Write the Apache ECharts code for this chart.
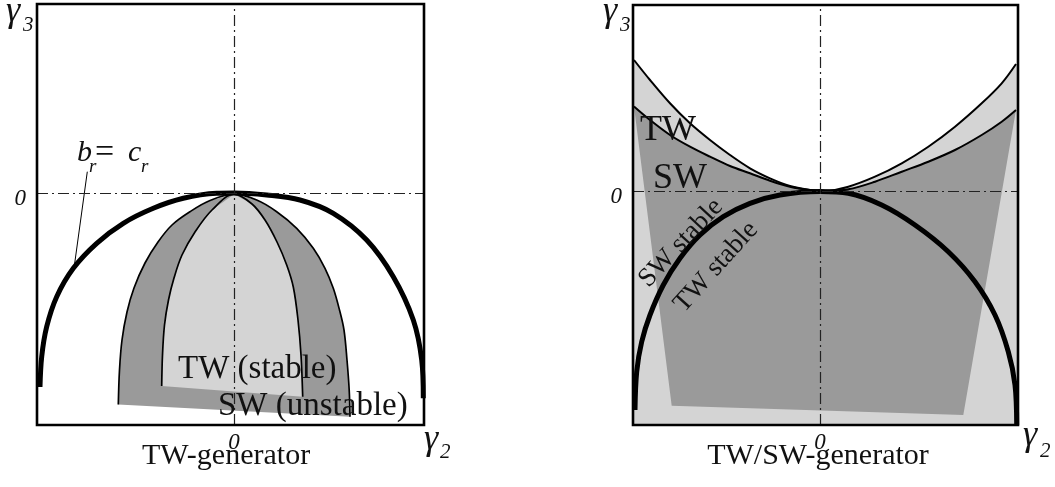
<!DOCTYPE html>
<html>
<head>
<meta charset="utf-8">
<script src="https://cdn.jsdelivr.net/npm/echarts@6/dist/echarts.min.js"></script>
<style>html,body{margin:0;padding:0;background:#fff}#c{width:1055px;height:487px}</style>
</head>
<body>
<div id="c"></div>
<script>
// ---------- data (schematic units; 0 = the dashed axes) ----------
// Left panel: TW-generator
const leftXRange = [-19.7, 19.0];
const leftYRange = [-23.2, 18.9];
const leftArch = [[-19.4,-19.4],[-19.23,-16.37],[-18.73,-13.37],[-17.73,-10.37],[-16.07,-7.53],[-13.73,-5.03],[-11.07,-3.03],[-8.07,-1.53],[-5.07,-0.53],[-1.73,-0.03],[0,0],[3.27,-0.2],[6.6,-0.7],[9.93,-2.03],[13.27,-4.7],[15.93,-8.37],[17.93,-12.7],[18.77,-16.7],[18.93,-20.53]];
const leftOuterDome = [[-11.57,-21.15],[-11.45,-17.7],[-11.2,-14.7],[-10.7,-11.9],[-10.0,-9.5],[-8.9,-7.0],[-7.6,-4.9],[-6.2,-3.2],[-4.4,-1.87],[-2.4,-0.75],[0,-0.12],[2.27,-0.7],[4.27,-1.87],[6.27,-3.53],[7.93,-5.53],[9.1,-7.53],[9.93,-9.53],[10.55,-11.7],[11.0,-13.7],[11.3,-16.7],[11.52,-19.7],[11.6,-22.37]];
const leftInnerDome = [[-7.23,-19.3],[-7.15,-16.2],[-6.95,-13.2],[-6.55,-10.7],[-6.0,-8.5],[-5.2,-6.2],[-3.9,-3.9],[-2.2,-1.7],[0,-0.12],[1.8,-1.1],[3.1,-2.7],[4.3,-4.9],[5.27,-7.2],[5.93,-9.4],[6.4,-12.7],[6.7,-16.2],[6.87,-20.37]];
const leftLeader = [[-14.67,2.13],[-16.0,-7.53]];

// Right panel: TW/SW-generator
const rightXRange = [-18.7, 19.8];
const rightYRange = [-23.4, 18.6];
const rightUpper = [[-18.6,13.1],[-17,11.1],[-15,8.77],[-13,6.77],[-11,5.1],[-9,3.6],[-7,2.27],[-5,1.27],[-3,0.5],[-1,0.1],[0.5,0],[2.83,0.43],[5.5,1.43],[8.17,2.77],[10.83,4.43],[13.5,6.43],[16.17,8.77],[18.17,10.77],[19.6,12.7]];
const rightLower = [[-18.6,8.45],[-17,7.1],[-15,5.6],[-13,4.43],[-11,3.43],[-9,2.5],[-7,1.77],[-5,1.03],[-3,0.43],[-1,0.1],[0.5,0],[2.83,0.17],[5.5,0.93],[8.17,1.93],[10.83,2.93],[13.5,4.1],[16.17,5.6],[18.17,6.93],[19.6,8.1]];
const rightArch = [[-18.5,-21.9],[-18.33,-18.07],[-17.83,-15.07],[-17,-12.4],[-15.67,-9.4],[-14,-6.73],[-12,-4.4],[-9.67,-2.57],[-7,-1.23],[-4,-0.4],[0,-0.05],[2.83,-0.23],[6.17,-1.4],[9.5,-3.4],[12.83,-6.07],[15.5,-9.07],[17.5,-12.4],[18.83,-16.07],[19.5,-19.4],[19.67,-23.4]];
const rightDarkBase = [[14.33,-22.4],[-14.83,-21.47]];

const zeroTicks = [0];
// ---------------------------------------------------------------

const FONT = "'Liberation Serif','Times New Roman',serif";
const DARK = '#9a9a9a', LIGHT = '#d4d4d4', INK = '#111';

function poly(idx, pts, color) {
  return {
    type: 'custom', xAxisIndex: idx, yAxisIndex: idx, coordinateSystem: 'cartesian2d',
    data: [pts[0]], clip: true, silent: true, z: 1,
    renderItem: (params, api) => ({
      type: 'polygon',
      shape: { points: pts.map(p => api.coord(p)) },
      style: { fill: color }
    })
  };
}
function frame(idx) {
  return {
    type: 'custom', xAxisIndex: idx, yAxisIndex: idx, coordinateSystem: 'cartesian2d',
    data: [[0, 0]], clip: false, silent: true, z: 20,
    renderItem: (params) => {
      const c = params.coordSys;
      return { type: 'rect', shape: { x: c.x, y: c.y, width: c.width, height: c.height },
        style: { fill: 'none', stroke: '#000', lineWidth: 2.6 } };
    }
  };
}
function curve(idx, pts, width, smooth) {
  return {
    type: 'line', xAxisIndex: idx, yAxisIndex: idx, data: pts, symbol: 'none',
    smooth: smooth === false ? false : 0.35, silent: true, z: 3,
    lineStyle: { color: '#000', width: width }
  };
}
function dashes(idx) {
  return {
    type: 'line', xAxisIndex: idx, yAxisIndex: idx, data: [], z: 2, silent: true,
    markLine: {
      silent: true, symbol: ['none', 'none'], label: { show: false },
      lineStyle: { type: [11, 4, 2, 4], width: 1.2, color: '#222' },
      data: [{ xAxis: 0 }, { yAxis: 0 }]
    }
  };
}
function txt(text, x, y, size, opt) {
  opt = opt || {};
  return {
    type: 'text', x: x, y: y, z: 100, rotation: opt.rot || 0, silent: true,
    style: {
      text: text, fontSize: size, fontFamily: FONT, fontStyle: opt.italic ? 'italic' : 'normal',
      fill: INK, align: opt.align || 'left', verticalAlign: 'middle'
    }
  };
}
function xAx(idx, range) {
  return {
    type: 'value', gridIndex: idx, min: range[0], max: range[1],
    axisLine: { show: false }, axisTick: { show: false }, splitLine: { show: false },
    axisLabel: { customValues: zeroTicks, margin: 6, fontFamily: FONT, fontStyle: 'italic', fontSize: 23, color: INK }
  };
}
function yAx(idx, range) {
  return {
    type: 'value', gridIndex: idx, min: range[0], max: range[1],
    axisLine: { show: false }, axisTick: { show: false }, splitLine: { show: false },
    axisLabel: { customValues: zeroTicks, margin: 11, verticalAlign: 'top', lineHeight: 12,
      fontFamily: FONT, fontStyle: 'italic', fontSize: 23, color: INK }
  };
}

const rightLightPoly = [[rightXRange[0], rightUpper[0][1]]].concat(rightUpper,
  [[rightXRange[1], rightUpper[rightUpper.length - 1][1]], [rightXRange[1], rightYRange[0]], [rightXRange[0], rightYRange[0]]]);
const rightDarkPoly = rightLower.concat(rightDarkBase);

const chart = echarts.init(document.getElementById('c'), null, { renderer: 'canvas' });
chart.setOption({
  animation: false,
  backgroundColor: '#fff',
  grid: [
    { left: 37, top: 4, width: 387, height: 421, show: false },
    { left: 633, top: 5, width: 385, height: 420, show: false }
  ],
  xAxis: [xAx(0, leftXRange), xAx(1, rightXRange)],
  yAxis: [yAx(0, leftYRange), yAx(1, rightYRange)],
  series: [
    poly(0, leftOuterDome, DARK),
    poly(0, leftInnerDome, LIGHT),
    dashes(0),
    curve(0, leftOuterDome, 1.7),
    curve(0, leftInnerDome, 1.7),
    curve(0, leftArch, 5),
    curve(0, leftLeader, 1, false),
    frame(0),
    poly(1, rightLightPoly, LIGHT),
    poly(1, rightDarkPoly, DARK),
    dashes(1),
    curve(1, rightUpper, 2),
    curve(1, rightLower, 2),
    curve(1, rightArch, 5),
    frame(1)
  ],
  graphic: [
    // left panel axis names
    txt('γ', 6, 12, 36, { italic: true }), txt('3', 23, 25, 21, { italic: true }),
    txt('γ', 424, 440, 36, { italic: true }), txt('2', 440, 452, 21, { italic: true }),
    // right panel axis names
    txt('γ', 603, 12, 36, { italic: true }), txt('3', 620, 25, 21, { italic: true }),
    txt('γ', 1023, 436, 36, { italic: true }), txt('2', 1040, 451, 21, { italic: true }),
    // b_r = c_r
    txt('b', 77, 153, 30, { italic: true }), txt('r', 89, 167, 19, { italic: true }),
    txt('=', 95, 153, 34), txt('c', 128, 153, 30, { italic: true }), txt('r', 141, 167, 19, { italic: true }),
    // left labels
    txt('TW (stable)', 178, 369, 33),
    txt('SW (unstable)', 218, 406, 33),
    txt('TW-generator', 226, 456, 30, { align: 'center' }),
    // right labels
    txt('TW', 640, 131, 36),
    txt('SW', 653, 179, 36),
    txt('SW stable', 681, 243, 27, { align: 'center', rot: 47 * Math.PI / 180 }),
    txt('TW stable', 716, 267, 27, { align: 'center', rot: 48 * Math.PI / 180 }),
    txt('TW/SW-generator', 818, 456, 30, { align: 'center' })
  ]
});
</script>
</body>
</html>
